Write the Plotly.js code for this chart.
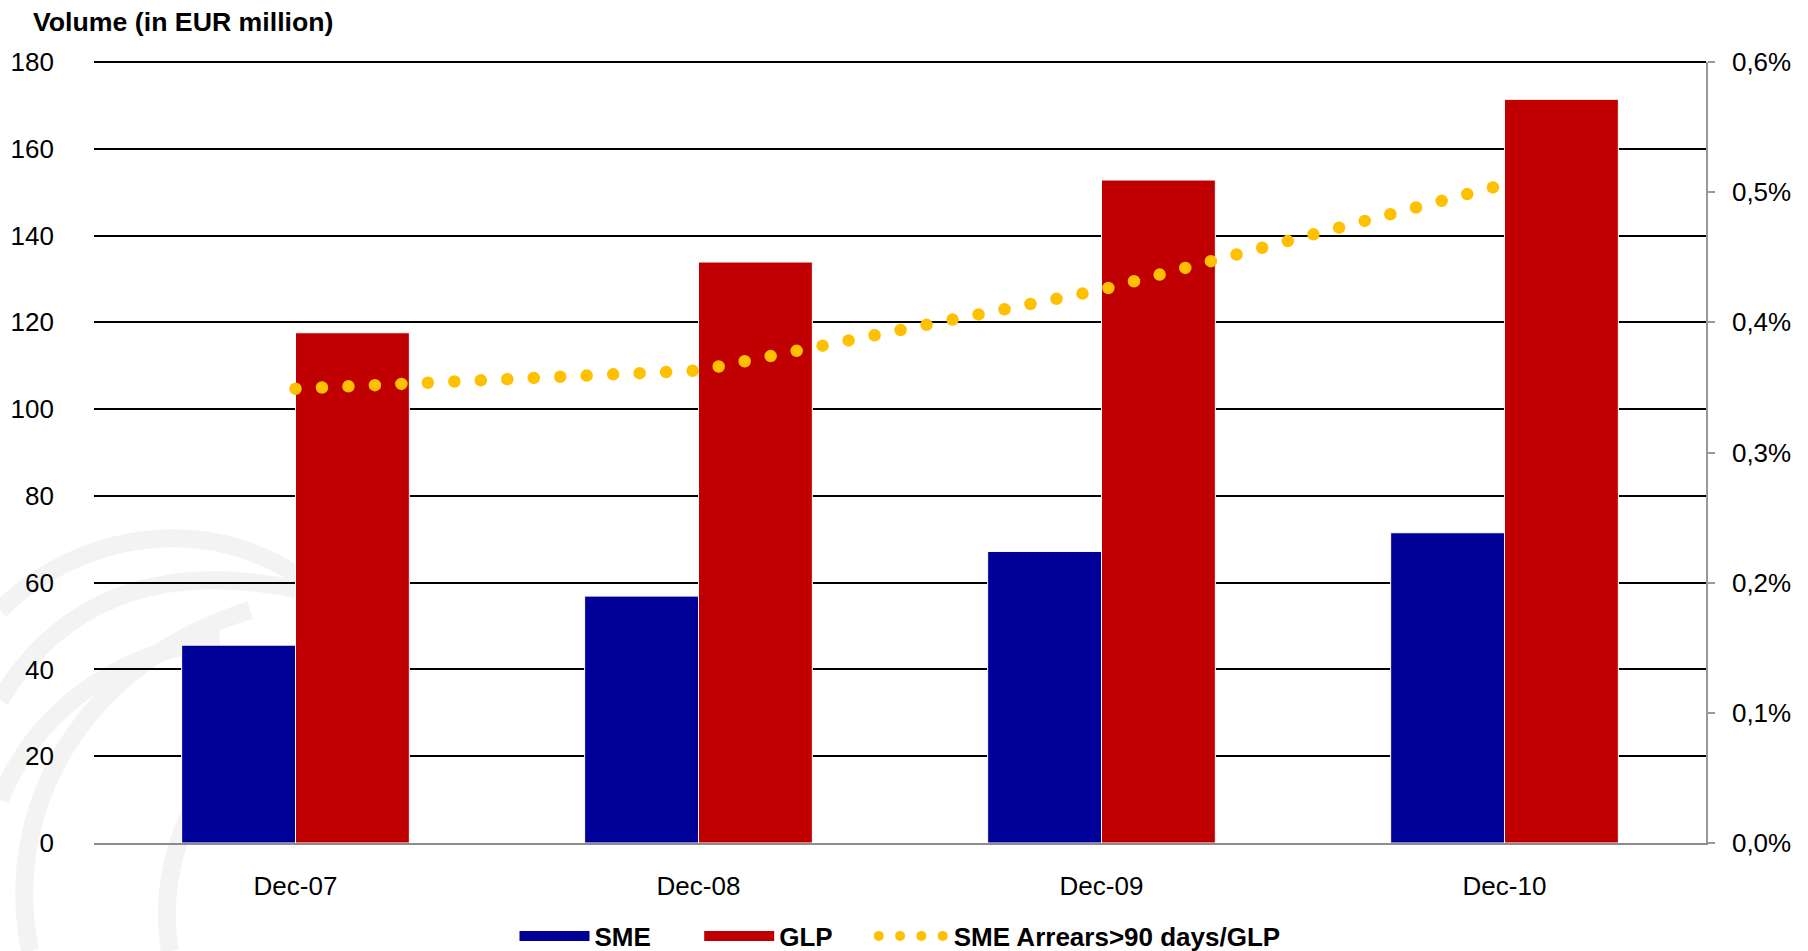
<!DOCTYPE html>
<html>
<head>
<meta charset="utf-8">
<script src="https://cdn.plot.ly/plotly-3.0.1.min.js"></script>
<style>
  html, body { margin: 0; padding: 0; background: #ffffff; }
  #chart { width: 1808px; height: 951px; }
</style>
</head>
<body>
<div id="chart"></div>
<script>
// ---- data ----
const categories = ['Dec-07', 'Dec-08', 'Dec-09', 'Dec-10'];
const smeVolume = [45.6, 56.9, 67.2, 71.5];          // EUR million
const glpVolume = [117.6, 133.9, 152.8, 171.4];      // EUR million
const arrearsRatio = [0.349, 0.363, 0.425, 0.506];   // % (SME arrears > 90 days / GLP)
const leftTicks = [0, 20, 40, 60, 80, 100, 120, 140, 160, 180];
const rightTicks = [0, 0.1, 0.2, 0.3, 0.4, 0.5, 0.6];
const rightTickLabels = ['0,0%', '0,1%', '0,2%', '0,3%', '0,4%', '0,5%', '0,6%'];

const seriesNames = ['SME', 'GLP', 'SME Arrears>90 days/GLP'];
const colors = { sme: '#000099', glp: '#C00000', arrears: '#FFC000' };
const FONT = 'Arial, "Liberation Sans", sans-serif';

// page geometry (pixels) -> paper coords helper for the faint background logo
const PL = 94, PR = 1706, PT = 62, PB = 843;
function px(x) { return (x - PL) / (PR - PL); }
function py(y) { return (PB - y) / (PB - PT); }
function arc(pts) {
  const p = pts.map(function (q) { return px(q[0]).toFixed(4) + ',' + py(q[1]).toFixed(4); });
  return 'M' + p[0] + ' C' + p[1] + ' ' + p[2] + ' ' + p[3];
}
const logoArcs = [
  [[0, 610], [80, 530], [230, 500], [340, 610]],
  [[0, 700], [60, 600], [160, 560], [300, 590]],
  [[30, 951], [0, 800], [90, 660], [250, 610]],
  [[170, 951], [150, 830], [230, 720], [340, 690]],
  [[0, 800], [40, 700], [130, 650], [220, 640]]
];
const shapes = logoArcs.map(function (a) {
  return { type: 'path', xref: 'paper', yref: 'paper', layer: 'below', path: arc(a),
           line: { color: '#f3f3f3', width: 18 } };
});
// top gridline (Plotly omits the gridline that falls on the plot edge)
shapes.push({ type: 'line', xref: 'paper', yref: 'paper', x0: 0, x1: 1, y0: 1, y1: 1,
              layer: 'below', line: { color: '#000000', width: 2 } });

const NB = '\u00A0';
const traces = [
  { type: 'bar', x: categories, y: smeVolume, name: seriesNames[0], legendgroup: 'sme', showlegend: false,
    marker: { color: colors.sme, line: { color: '#ffffff', width: 1 } }, hoverinfo: 'y' },
  { type: 'bar', x: categories, y: glpVolume, name: seriesNames[1], legendgroup: 'glp', showlegend: false,
    marker: { color: colors.glp, line: { color: '#ffffff', width: 1 } }, hoverinfo: 'y' },
  { type: 'scatter', mode: 'lines', x: categories, y: arrearsRatio, yaxis: 'y2', name: seriesNames[2],
    legendgroup: 'arr', showlegend: false,
    line: { color: colors.arrears, width: 12.5, dash: '0px,26.5px' }, hoverinfo: 'y' },
  // legend entries
  { type: 'scatter', mode: 'lines', x: [null], y: [null], name: seriesNames[0] + NB.repeat(6), legendgroup: 'sme',
    line: { color: colors.sme, width: 12 } },
  { type: 'scatter', mode: 'lines', x: [null], y: [null], name: seriesNames[1] + NB.repeat(5), legendgroup: 'glp',
    line: { color: colors.glp, width: 12 } },
  { type: 'scatter', mode: 'lines', x: [null], y: [null], yaxis: 'y2', name: seriesNames[2], legendgroup: 'arr',
    line: { color: colors.arrears, width: 12, dash: '0px,21.3px' } }
];

const layout = {
  width: 1808, height: 951,
  paper_bgcolor: '#ffffff', plot_bgcolor: 'rgba(0,0,0,0)',
  separators: ',.',
  font: { family: FONT, size: 26, color: '#000000' },
  margin: { l: PL, r: 1808 - PR, t: PT, b: 951 - PB, autoexpand: false },
  title: { text: '<b>Volume (in EUR million)</b>', xref: 'container', yref: 'container',
           x: 33 / 1808, xanchor: 'left', y: 1 - 22 / 951, yanchor: 'middle',
           font: { family: FONT, size: 26.7, color: '#000000' } },
  barmode: 'group', bargap: 0.435, bargroupgap: 0,
  shapes: shapes,
  xaxis: { type: 'category', showgrid: false, showline: true, linecolor: '#8c8c8c', linewidth: 1.5,
           ticks: '', ticklabelstandoff: 19, tickfont: { size: 26 }, zeroline: false },
  yaxis: { range: [0, 180], tickvals: leftTicks, showgrid: true, gridcolor: '#000000', gridwidth: 2,
           zeroline: false, showline: false, ticks: '', ticklabelstandoff: 39, tickfont: { size: 26 } },
  yaxis2: { overlaying: 'y', side: 'right', range: [0, 0.6], tickvals: rightTicks, ticktext: rightTickLabels,
            showgrid: false, zeroline: false,
            showline: true, linecolor: '#999999', linewidth: 1.5,
            ticks: 'outside', ticklen: 7, tickcolor: '#999999', tickwidth: 1.5,
            ticklabelstandoff: 12, tickfont: { size: 26 } },
  showlegend: true,
  legend: { orientation: 'h', x: 0.5, xanchor: 'center', y: py(936), yanchor: 'middle',
            itemwidth: 70, font: { family: FONT, size: 26, weight: 'bold', color: '#000000' },
            bgcolor: 'rgba(0,0,0,0)', traceorder: 'normal' }
};

Plotly.newPlot('chart', traces, layout, { displayModeBar: false, responsive: false }).then(function () {
  document.querySelectorAll('path.js-line').forEach(function (p) {
    const da = p.style.strokeDasharray || p.getAttribute('stroke-dasharray') || '';
    if (/^\s*0(px)?[ ,]/.test(da)) { p.style.strokeLinecap = 'round'; }
  });
});
</script>
</body>
</html>
